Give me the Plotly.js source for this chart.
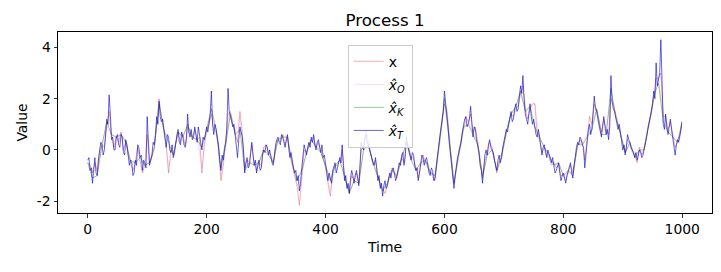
<!DOCTYPE html>
<html>
<head>
<meta charset="utf-8">
<script src="https://cdn.plot.ly/plotly-3.0.1.min.js"></script>
<style>html,body{margin:0;padding:0;background:#fff;}#chart{width:721px;height:272px;}</style>
</head>
<body>
<div id="chart"></div>
<script>
// x̂_T (blue), sampled every 2 time steps, last at 999
const xT = [
-0.4,-0.3,-0.8,-0.7,-1.3,-0.6,-0.3,-0.9,-1.0,-0.4,-0.1,0.3,0.2,-0.2,0.0,0.7,1.2,1.0,2.15,1.4,
0.4,0.5,0.0,0.0,0.5,0.6,0.2,0.1,0.6,0.5,-0.1,-0.2,0.4,0.2,-0.3,-0.6,-0.4,-0.5,-1.0,-0.9,
-0.4,-0.6,0.2,0.1,-0.3,-0.2,-0.8,-0.4,-0.5,-0.7,1.3,0.2,-0.6,-0.4,-0.2,0.3,0.2,0.6,1.3,1.0,
1.9,1.3,1.1,1.2,0.8,0.4,0.1,0.6,0.5,0.0,-0.1,0.2,-0.3,-0.1,0.4,0.6,0.8,0.3,0.2,0.7,
0.5,0.2,0.1,0.4,1.4,0.7,0.5,0.8,0.4,0.5,0.9,0.6,0.3,0.9,0.6,0.2,0.0,0.5,0.4,0.6,
0.9,0.7,1.1,1.4,2.3,1.0,0.6,1.0,0.8,0.5,0.2,-0.4,-0.8,-0.2,-0.4,0.1,0.3,0.9,2.4,1.5,
1.3,1.1,0.9,1.0,0.6,0.2,-0.3,0.4,0.9,0.7,0.5,0.0,-0.9,-0.5,-0.3,-0.7,-0.6,-0.1,0.3,-0.2,
-0.6,-0.4,-0.9,-0.6,-0.4,-0.8,-0.7,-0.2,0.0,-0.1,0.2,0.1,-0.2,0.0,-0.3,-0.5,-0.6,-0.1,0.2,0.4,
0.5,0.3,0.2,0.6,0.5,0.3,0.1,0.4,0.6,0.1,-0.3,-0.1,-0.5,-0.7,-0.9,-0.8,-1.2,-1.0,-1.6,-1.3,
-0.7,-0.3,0.2,0.0,-0.2,0.1,0.3,0.1,0.5,0.3,0.6,0.2,0.0,0.3,0.4,0.1,-0.1,0.2,-0.3,-0.2,
-0.6,-0.8,-1.2,-0.9,-1.1,-1.3,-0.8,-0.6,-0.5,-0.9,-0.7,-0.4,-0.3,-0.5,0.2,-0.6,-1.2,-1.0,-1.5,-1.3,
-1.7,-1.1,-0.8,-1.0,-1.3,-1.0,-0.8,-1.1,-1.4,-0.6,0.3,0.1,0.0,0.4,0.6,0.3,0.2,0.0,-0.2,-0.4,
-0.5,-0.6,-0.3,-0.7,-1.2,-1.0,-1.5,-1.3,-1.8,-1.4,-1.2,-1.5,-1.4,-1.1,-0.9,-1.1,-0.8,-0.7,-1.0,-1.2,
-1.0,-0.7,-0.5,-0.6,-0.2,-0.1,-0.6,-0.3,0.5,0.2,0.0,-0.2,-0.4,-0.1,-0.2,-0.6,-0.8,-0.7,-1.2,-0.9,
-0.5,-0.2,-0.3,-0.6,-0.4,-0.3,-0.6,-0.9,-1.0,-0.7,-0.8,-1.2,-1.1,-0.6,-0.2,0.1,0.5,0.9,1.2,1.5,
2.3,1.9,1.4,0.9,0.3,-0.1,-0.6,-0.9,-1.5,-1.0,-0.6,-0.3,-0.1,0.1,0.3,0.7,1.0,1.2,1.3,0.9,
1.0,1.2,1.7,0.9,0.5,0.9,0.8,0.4,0.1,-0.1,-0.6,-0.8,-1.3,-0.5,-0.2,0.0,-0.2,0.2,0.4,0.1,
0.0,-0.1,-0.4,-0.6,-0.8,-0.4,-0.2,-0.5,-0.3,0.1,0.3,0.5,0.8,0.7,1.0,1.2,1.5,1.1,1.2,1.6,
1.8,1.5,1.6,2.1,2.5,2.2,2.9,2.0,1.4,1.2,1.0,1.4,1.8,1.3,1.0,1.2,0.9,0.6,0.5,0.8,
0.5,0.2,-0.2,0.1,0.2,-0.1,-0.3,0.0,-0.2,-0.4,-0.5,-0.3,-0.6,-0.9,-0.8,-0.6,-0.5,-0.9,-1.2,-1.0,
-0.9,-1.1,-1.3,-1.0,-0.8,-0.6,-0.5,-0.9,-1.1,-0.6,-0.2,0.1,0.3,0.2,0.5,0.4,0.2,0.1,-0.7,-0.1,
0.5,0.8,1.0,0.6,0.8,1.5,2.1,1.6,1.5,1.2,1.0,0.7,0.5,0.9,1.3,0.9,0.6,0.8,0.4,0.9,
2.9,1.9,1.6,1.5,1.3,1.0,0.8,1.0,0.6,0.3,0.0,0.2,-0.2,0.1,0.6,0.4,0.3,0.1,0.0,-0.1,
-0.3,-0.1,-0.4,-0.2,0.0,-0.1,-0.3,-0.2,0.0,0.3,0.5,0.8,1.0,1.3,1.5,1.8,2.3,2.0,3.4,2.5,
2.7,3.0,4.3,2.0,1.0,0.8,1.4,0.9,0.6,0.9,1.2,0.8,0.5,0.1,-0.2,0.2,0.4,0.3,0.5,0.8,
1.1];

// x (true, red), sampled every 4 time steps, last at 999
const xTrue = [
-0.5,-0.6,-0.9,-0.5,-0.8,0.0,0.2,0.1,0.9,1.5,
0.6,0.1,0.5,0.3,0.7,0.0,0.3,-0.2,-0.5,-0.8,
-0.5,0.1,-0.4,-0.9,-0.6,0.6,-0.5,-0.3,0.1,1.0,
2.0,1.3,0.7,0.2,-0.9,0.0,-0.2,0.3,0.7,0.3,
0.6,0.2,0.9,0.6,0.5,0.8,0.4,0.5,-0.9,0.2,
0.8,1.0,1.4,0.8,0.7,0.1,-1.2,-0.6,0.2,1.4,
1.5,1.0,0.7,0.3,1.5,0.7,-0.7,-0.4,-0.5,0.2,
-0.5,-0.8,-0.5,-0.6,0.1,0.2,-0.1,-0.2,-0.5,0.1,
0.4,0.3,0.6,0.2,0.5,-0.2,-0.6,-1.0,-1.4,-2.15,
-1.0,0.0,-0.1,0.2,0.4,0.5,0.1,0.3,0.0,-0.4,
-0.7,-1.3,-1.8,-1.0,-0.6,-0.6,-0.4,0.0,-1.0,-1.4,
-1.6,-1.0,-1.2,-0.9,-1.3,0.0,0.1,0.8,0.3,-0.1,
-0.6,-0.4,-1.0,-1.4,-1.5,-1.7,-1.3,-1.0,-0.7,-0.9,
-1.1,-0.6,-0.3,-0.5,0.3,0.1,-0.3,-0.3,-0.7,-1.1,
-0.6,-0.2,-0.5,-0.5,-0.9,-0.9,-1.2,-0.4,0.3,1.0,
1.8,1.6,0.5,-0.4,-1.3,-0.8,-0.2,0.2,0.8,1.3,
1.1,1.4,0.7,0.9,0.3,-0.4,-1.0,-0.4,-0.1,0.3,
0.1,-0.3,-0.9,-0.4,-0.2,0.2,0.7,1.1,1.4,1.3,
1.6,1.7,2.2,2.5,1.6,1.2,1.6,1.8,1.8,0.6,
0.4,-0.1,0.1,-0.2,-0.3,-0.6,-0.5,-0.7,-0.6,-1.0,
-1.0,-1.2,-0.9,-0.6,-0.9,-0.4,0.2,0.4,0.3,-0.4,
0.6,1.3,1.0,1.8,1.6,1.1,0.7,1.2,0.8,0.6,
2.0,1.8,1.4,1.0,0.7,0.2,-0.1,0.4,0.2,-0.1,
-0.2,-0.5,0.1,-0.2,0.1,0.6,1.1,1.4,2.0,2.8,
2.8,3.0,1.3,1.3,0.8,1.1,0.6,0.1,0.3,0.6,
1.0];

// x̂_K (green), sampled every 8 time steps, last at 999
const xK = [
-0.5,-1.1,-1.0,0.2,1.1,0.6,0.5,0.6,0.3,-0.4,
-0.5,-0.3,-0.6,-0.5,0.1,1.8,0.8,0.3,-0.2,0.7,
0.5,1.0,0.5,0.4,0.1,0.8,1.6,0.8,-0.7,0.2,
1.4,0.6,0.8,-0.8,-0.5,-0.6,-0.5,0.0,-0.2,-0.5,
0.4,0.5,0.5,-0.5,-1.2,-0.8,-0.1,0.4,0.1,-0.1,
-0.6,-1.2,-0.6,-0.4,-1.1,-1.7,-1.2,-1.3,0.0,0.2,
-0.5,-1.1,-1.6,-1.3,-0.8,-1.0,-0.3,0.3,-0.4,-0.8,
-0.5,-0.4,-0.9,-1.0,0.4,2.0,0.4,-1.3,-0.1,0.9,
1.0,0.6,0.2,-1.1,-0.2,0.0,-0.8,-0.3,0.7,1.4,
1.7,2.3,1.5,1.7,0.9,0.5,0.1,-0.2,-0.6,-0.5,
-1.0,-0.8,-1.0,0.2,0.2,0.5,0.8,1.6,0.6,0.6,
2.4,1.3,0.6,-0.1,0.3,-0.3,0.0,0.0,1.0,2.1,
2.6,1.1,0.7,0.5,0.3,
1.0];

// x̂_O (pink), sampled every 8 time steps, last at 999
const xO = [
-0.5,-0.8,-0.8,0.2,0.9,0.6,0.5,0.7,0.3,-0.5,
-0.5,-0.4,-0.6,-0.5,0.1,1.9,0.7,-0.6,-0.2,0.7,
0.6,0.9,0.5,0.4,-0.7,0.8,1.4,0.7,-1.0,0.2,
1.5,0.7,1.3,-0.7,-0.5,-0.5,-0.5,0.1,-0.1,-0.5,
0.4,0.6,0.5,-0.6,-1.4,-1.0,-0.1,0.4,0.1,0.0,
-0.7,-1.6,-0.6,-0.4,-1.0,-1.6,-1.2,-1.3,0.1,0.3,
-0.6,-1.0,-1.5,-1.3,-0.7,-1.1,-0.3,0.3,-0.3,-0.7,
-0.6,-0.5,-0.9,-1.2,0.3,1.8,0.5,-1.3,-0.2,0.8,
1.1,0.7,0.3,-1.0,-0.1,0.1,-0.9,-0.2,0.7,1.4,
1.6,2.2,1.6,1.6,1.8,0.4,0.1,-0.3,-0.5,-0.6,
-1.0,-0.9,-0.9,0.2,0.3,0.6,1.0,1.6,0.7,0.8,
2.0,1.4,0.7,-0.1,0.2,-0.2,0.1,0.1,1.1,2.0,
2.8,1.3,0.8,0.6,0.3,
1.0];

const xTicks = [0, 200, 400, 600, 800, 1000];
const yTicks = [-2, 0, 2, 4];
const yTickText = ['-2', '0', '2', '4'];
const lastTime = 999;

function timesFor(values, step) {
  const t = [];
  for (let i = 0; i < values.length - 1; i++) t.push(i * step);
  t.push(lastTime);
  return t;
}

const FAM = 'DejaVu Sans, sans-serif';
const font = {family: FAM, size: 13.9, color: '#000'};

const traces = [
  {x: timesFor(xTrue, 4), y: xTrue, name: 'x', mode: 'lines', legendgroup: 'a',
   line: {color: 'rgba(215,60,60,0.5)', width: 0.8}},
  {x: timesFor(xO, 8), y: xO, name: '<i>x̂</i><sub><i>O</i></sub>', mode: 'lines', legendgroup: 'b',
   line: {color: 'rgba(238,130,238,0.35)', width: 0.8}},
  {x: timesFor(xK, 8), y: xK, name: '<i>x̂</i><sub><i>K</i></sub>', mode: 'lines', legendgroup: 'c',
   line: {color: 'rgba(0,110,0,0.5)', width: 0.8}},
  {x: timesFor(xT, 2), y: xT, name: '<i>x̂</i><sub><i>T</i></sub>', mode: 'lines', legendgroup: 'd',
   line: {color: 'rgba(0,0,200,0.75)', width: 0.8}}
];

const layout = {
  width: 721, height: 272,
  margin: {l: 58, r: 9, t: 32, b: 59},
  paper_bgcolor: '#fff', plot_bgcolor: '#fff',
  font: font,
  showlegend: true,
  title: {text: 'Process 1', font: {family: FAM, size: 16.7, color: '#000'},
          x: 0.5, xref: 'paper', xanchor: 'center', y: 1, yref: 'paper', yanchor: 'bottom', pad: {b: 6}},
  xaxis: {range: [-50, 1050], tickvals: xTicks, ticktext: xTicks.map(String),
          showgrid: false, zeroline: false, showline: true, linecolor: '#000', linewidth: 1, mirror: true,
          ticks: 'outside', ticklen: 3.5, tickwidth: 0.8, tickcolor: '#000',
          tickfont: {family: FAM, size: 13.9},
          title: {text: 'Time', font: {family: FAM, size: 13.9}, standoff: 6}},
  yaxis: {range: [-2.46, 4.6], tickvals: yTicks, ticktext: yTickText,
          showgrid: false, zeroline: false, showline: true, linecolor: '#000', linewidth: 1, mirror: true,
          ticks: 'outside', ticklen: 3.5, tickwidth: 0.8, tickcolor: '#000',
          tickfont: {family: FAM, size: 13.9},
          title: {text: 'Value', font: {family: FAM, size: 13.9}, standoff: 5}},
  legend: {x: 0.443, y: 0.93, xanchor: 'left', yanchor: 'top',
           bgcolor: 'rgba(255,255,255,0.8)', bordercolor: '#cccccc', borderwidth: 1,
           font: {family: FAM, size: 13.9}, itemwidth: 30, tracegroupgap: 2}
};

Plotly.newPlot('chart', traces, layout, {staticPlot: true, displayModeBar: false});
</script>
</body>
</html>
